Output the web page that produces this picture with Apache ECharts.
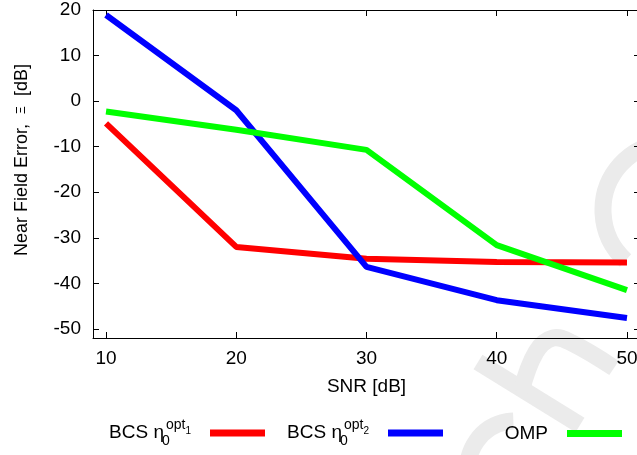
<!DOCTYPE html>
<html>
<head>
<meta charset="utf-8">
<script src="https://cdn.jsdelivr.net/npm/echarts@6/dist/echarts.min.js"></script>
<style>
  html, body { margin: 0; padding: 0; background: #fff; }
  #chart { width: 637px; height: 455px; }
</style>
</head>
<body>
<div id="chart"></div>
<script>
// SNR values on the x axis
const snr = [10, 20, 30, 40, 50];
// near field error [dB] per method
const bcsOpt1 = [-4.9, -32.0, -34.6, -35.3, -35.4];
const bcsOpt2 = [18.9, -2.0, -36.4, -43.7, -47.6];
const omp = [-2.3, -6.3, -10.7, -31.6, -41.5];
// tick labels
const xTicks = [10, 20, 30, 40, 50];
const yTicks = [-50, -40, -30, -20, -10, 0, 10, 20];

const FONT = "Liberation Sans";
const pairs = (ys) => snr.map((x, i) => [x, ys[i]]);

const legendRich = {
  a: { fontFamily: FONT, fontSize: 19, color: "#000", lineHeight: 30 },
  s0: { fontFamily: FONT, fontSize: 14, color: "#000", verticalAlign: "bottom", align: "left", width: 0, padding: [0, 0, 0, 2], lineHeight: 30 },
  sp: { fontFamily: FONT, fontSize: 14, color: "#000", verticalAlign: "top", align: "left", lineHeight: 30 },
  ss: { fontFamily: FONT, fontSize: 10, color: "#000", verticalAlign: "top", align: "left", padding: [8, 0, 0, 0], lineHeight: 30 },
};
const legendLabels = {
  opt1: "{a|BCS η}{s0|0}{sp|opt}{ss|1}",
  opt2: "{a|BCS η}{s0|0}{sp|opt}{ss|2}",
  OMP: "{a|OMP}",
};

const makeLegend = (name, right, top) => ({
  data: [name],
  right: right,
  top: top,
  padding: 0,
  align: "right",
  icon: "rect",
  itemWidth: 55,
  itemHeight: 7,
  selectedMode: false,
  formatter: (n) => legendLabels[n],
  textStyle: { padding: [0, 14, 0, 0], rich: legendRich },
});

const axisCommon = {
  type: "value",
  axisLine: { show: true, onZero: false, lineStyle: { color: "#000", width: 1 } },
  splitLine: { show: false },
};

const wm = { stroke: "#ebebeb", lineWidth: 17, fill: null };

var myChart = echarts.init(document.getElementById("chart"));
myChart.setOption({
  animation: false,
  backgroundColor: "#fff",
  grid: { left: 93, top: 10, width: 547, height: 328, outerBoundsMode: "none", containLabel: false },
  xAxis: [
    Object.assign({}, axisCommon, {
      position: "bottom", min: 9, max: 51,
      name: "SNR [dB]", nameLocation: "middle", nameGap: 39,
      nameTextStyle: { fontFamily: FONT, fontSize: 19, color: "#000" },
      axisTick: { show: true, inside: true, length: 6, customValues: xTicks, lineStyle: { color: "#000" } },
      axisLabel: { show: true, customValues: xTicks, margin: 11, fontFamily: FONT, fontSize: 19, color: "#000" },
    }),
    Object.assign({}, axisCommon, {
      position: "top", min: 9, max: 51,
      axisTick: { show: true, inside: true, length: 6, customValues: xTicks, lineStyle: { color: "#000" } },
      axisLabel: { show: false },
    }),
  ],
  yAxis: [
    Object.assign({}, axisCommon, {
      position: "left", min: -52, max: 20,
      axisTick: { show: true, inside: true, length: 6, customValues: yTicks, lineStyle: { color: "#000" } },
      axisLabel: { show: true, customValues: yTicks, margin: 12, fontFamily: FONT, fontSize: 19, color: "#000" },
    }),
    Object.assign({}, axisCommon, {
      position: "right", min: -52, max: 20,
      axisTick: { show: true, inside: true, length: 6, customValues: yTicks, lineStyle: { color: "#000" } },
      axisLabel: { show: false },
    }),
  ],
  legend: [makeLegend("opt1", 372, 418), makeLegend("opt2", 194, 418), makeLegend("OMP", 15, 424)],
  graphic: [
    // faint watermark strokes behind the plot
    { type: "arc", z: -10, silent: true, shape: { cx: 671, cy: 210, r: 68, startAngle: 132 * Math.PI / 180, endAngle: 250 * Math.PI / 180, clockwise: true }, style: wm },
    { type: "line", z: -10, silent: true, shape: { x1: 478, y1: 362, x2: 580, y2: 425 }, style: wm },
    { type: "polyline", z: -10, silent: true, shape: { points: [[521, 392], [536, 352], [553, 338], [572, 343], [614, 368]], smooth: 0.4 }, style: wm },
    { type: "arc", z: -10, silent: true, shape: { cx: 515, cy: 468, r: 47, startAngle: 170 * Math.PI / 180, endAngle: 268 * Math.PI / 180, clockwise: true }, style: wm },
    // y axis title
    {
      type: "text", x: 22, y: 160, rotation: Math.PI / 2,
      style: {
        text: "{a|Near Field Error,  }{b|Ξ}{a|  [dB]}",
        align: "center", verticalAlign: "middle",
        rich: {
          a: { fontFamily: FONT, fontSize: 18, fill: "#000" },
          b: { fontFamily: FONT, fontSize: 12, fill: "#000" },
        },
      },
    },
  ],
  series: [
    { name: "opt1", type: "line", data: pairs(bcsOpt1), showSymbol: false, color: "#ff0000", lineStyle: { width: 6, color: "#ff0000" } },
    { name: "opt2", type: "line", data: pairs(bcsOpt2), showSymbol: false, color: "#0000ff", lineStyle: { width: 6, color: "#0000ff" } },
    { name: "OMP", type: "line", data: pairs(omp), showSymbol: false, color: "#00ff00", lineStyle: { width: 6, color: "#00ff00" } },
  ],
});
</script>
</body>
</html>
